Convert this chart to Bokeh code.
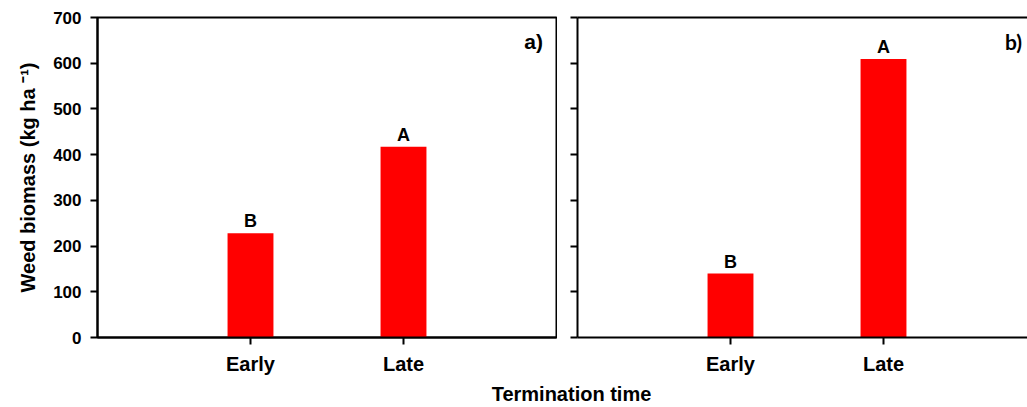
from bokeh.plotting import figure
from bokeh.layouts import row, column
from bokeh.models import FixedTicker, LinearAxis, Label, Range1d, CustomJSTickFormatter
from bokeh.core.properties import value
from bokeh.embed import file_html
from bokeh.resources import INLINE

# Weed biomass by cover-crop termination time, two sites
timing = ["Early", "Late"]
biomass_a = [228, 417]
biomass_b = [140, 609]
letters_a = ["B", "A"]
letters_b = ["B", "A"]
y_ticks = [0, 100, 200, 300, 400, 500, 600, 700]

FONT = "Liberation Sans"
BAR_RED = "#FF0000"
FRAME_W = 459          # plot-area width of a full panel
FRAME_H = 320
ROW_H = 380
SLOTS = len(timing) + 1
x_pos = [i + 1 for i in range(len(timing))]
BAR_W = 0.30


def style_axes(p):
    p.xgrid.visible = False
    p.ygrid.visible = False
    p.background_fill_color = "white"
    p.border_fill_color = "white"
    for ax in p.xaxis + p.yaxis:
        ax.axis_line_width = 2
        ax.axis_line_color = "black"
        ax.major_tick_line_width = 2
        ax.major_tick_line_color = "black"
        ax.major_tick_in = 0
        ax.minor_tick_line_color = None
        ax.major_label_text_font = FONT
        ax.major_label_text_font_style = "bold"
        ax.major_label_text_color = "black"
    p.xaxis.ticker = FixedTicker(ticks=x_pos)
    p.xaxis.major_label_overrides = {x: t for x, t in zip(x_pos, timing)}
    p.xaxis.major_tick_out = 7
    p.xaxis.major_label_text_font_size = "20px"
    p.xaxis.major_label_standoff = 8
    p.yaxis.ticker = FixedTicker(ticks=y_ticks)
    p.yaxis.major_tick_out = 7
    p.yaxis.major_label_text_font_size = "17px"
    p.yaxis.major_label_standoff = 9


def draw_bars(p, values, letters, tag, tag_font):
    p.vbar(x=x_pos, top=values, width=BAR_W, bottom=0,
           fill_color=BAR_RED, line_color=None)
    p.text(x=x_pos, y=values, text=letters, text_align="center",
           text_baseline="alphabetic", y_offset=-12,
           text_font=value(FONT), text_font_style="bold",
           text_font_size="18px", text_color="black")
    p.add_layout(Label(x=2.85, y=648, text=tag, text_align="center",
                       text_baseline="middle", text_font=tag_font,
                       text_font_style="bold", text_font_size="21px",
                       text_color="black"))


# Panel a
p1 = figure(width=557, height=ROW_H, x_range=Range1d(0, SLOTS),
            y_range=Range1d(0, 700), output_backend="svg",
            toolbar_location=None, min_border_left=97, min_border_right=1,
            min_border_top=17, min_border_bottom=ROW_H - 17 - FRAME_H)
style_axes(p1)
p1.outline_line_color = "black"
p1.outline_line_width = 2
p1.yaxis.axis_label = "Weed biomass (kg ha \u207b\u00b9)"
p1.yaxis.axis_label_text_font = FONT
p1.yaxis.axis_label_text_font_style = "bold"
p1.yaxis.axis_label_text_font_size = "20px"
p1.yaxis.axis_label_text_color = "black"
p1.yaxis.axis_label_standoff = 11
draw_bars(p1, biomass_a, letters_a, "a)", FONT)

# Panel b (its right edge runs off the page)
w2 = 1027 - 557
left2 = 20
frame_w2 = w2 - left2
p2 = figure(width=w2, height=ROW_H,
            x_range=Range1d(0, SLOTS * frame_w2 / FRAME_W),
            y_range=Range1d(0, 700), output_backend="svg",
            toolbar_location=None, min_border_left=left2, min_border_right=0,
            min_border_top=17, min_border_bottom=ROW_H - 17 - FRAME_H)
style_axes(p2)
p2.outline_line_color = None
p2.yaxis.formatter = CustomJSTickFormatter(code="return ''")
top_line = LinearAxis(ticker=FixedTicker(ticks=[]), axis_line_width=2,
                      axis_line_color="black", major_tick_out=0,
                      major_tick_in=0, minor_tick_out=0, minor_tick_in=0)
p2.add_layout(top_line, "above")
draw_bars(p2, biomass_b, letters_b, "b)", "Lato")

# Shared x-axis caption
p3 = figure(width=1027, height=407 - ROW_H, x_range=Range1d(0, 1),
            y_range=Range1d(0, 1), output_backend="svg",
            toolbar_location=None, min_border=0)
p3.axis.visible = False
p3.grid.visible = False
p3.outline_line_color = None
p3.add_layout(Label(x=571, y=14, x_units="screen", y_units="screen",
                    text="Termination time", text_align="center",
                    text_baseline="middle", text_font=FONT,
                    text_font_style="bold", text_font_size="20px",
                    text_color="black"))

layout = column(row(p1, p2), p3)
open("out.html", "w").write(file_html(layout, INLINE))
